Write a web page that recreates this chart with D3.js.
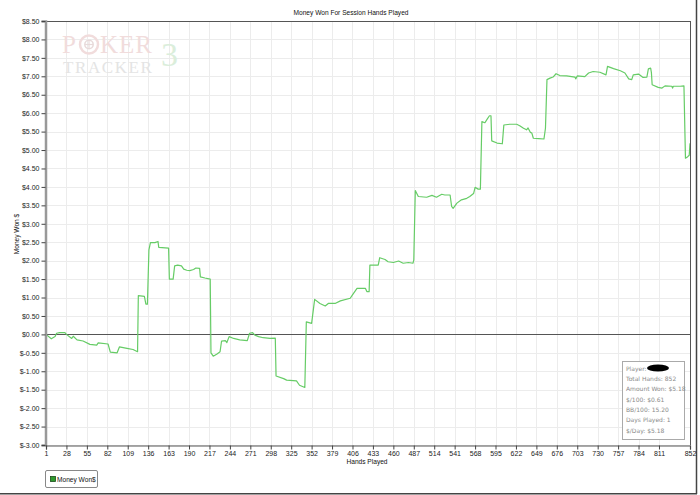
<!DOCTYPE html>
<html><head><meta charset="utf-8">
<script src="https://cdn.jsdelivr.net/npm/d3@7"></script>
<style>body{margin:0;background:#fff}svg{display:block}</style>
</head><body>
<svg id="c" width="700" height="495"></svg>
<script>
// ---- data ----
const hands = [1,8,13,15,19,26,28,35,37,42,50,59,68,70,83,86,95,98,108,116,122,123,131,133,135,137,139,145,149,150,163,164,169,171,175,180,183,187,191,196,199,204,205,211,218,219,222,227,231,233,238,240,243,249,257,267,270,274,277,282,288,297,304,305,315,319,332,336,343,345,352,356,363,370,374,383,390,403,406,412,423,425,428,429,440,442,449,453,460,467,473,480,486,487,489,493,504,511,517,524,528,535,537,539,544,550,557,561,566,568,572,575,577,581,584,587,589,590,597,604,606,614,623,627,632,636,638,641,643,645,652,659,661,663,667,671,675,680,689,700,701,703,713,718,724,733,741,743,751,760,766,771,775,777,784,790,795,797,800,801,802,810,815,819,828,829,830,839,844,846,849,851,852];
const moneyWon = [0,-0.12,-0.06,0.03,0.05,0.05,0,-0.11,-0.05,-0.15,-0.18,-0.27,-0.29,-0.23,-0.26,-0.48,-0.50,-0.34,-0.38,-0.41,-0.47,1.05,1.03,0.82,0.82,2.29,2.49,2.49,2.52,2.36,2.34,1.50,1.50,1.86,1.88,1.86,1.77,1.74,1.73,1.76,1.80,1.79,1.56,1.53,1.50,-0.50,-0.59,-0.53,-0.47,-0.18,-0.17,-0.22,-0.06,-0.11,-0.15,-0.17,0.03,0.05,-0.02,-0.06,-0.09,-0.11,-0.10,-1.13,-1.20,-1.24,-1.26,-1.38,-1.44,0.34,0.30,0.95,0.84,0.77,0.84,0.84,0.91,0.98,1.07,1.25,1.25,1.16,1.16,1.88,1.88,2.08,2.03,1.97,1.95,1.99,1.93,1.95,1.93,2.02,3.90,3.74,3.72,3.77,3.72,3.80,3.78,3.78,3.47,3.42,3.56,3.65,3.69,3.74,3.82,3.99,3.94,3.94,5.77,5.74,5.84,5.93,5.93,5.25,5.19,5.17,5.68,5.70,5.70,5.66,5.59,5.55,5.60,5.48,5.46,5.32,5.31,5.30,5.59,6.91,6.95,6.98,7.07,7.02,7.01,6.98,6.93,7.01,6.99,7.09,7.13,7.11,7.04,7.27,7.21,7.15,7.09,6.93,6.91,7.04,7.06,6.97,6.98,7.20,7.22,7.10,6.77,6.70,6.68,6.74,6.73,6.68,6.73,6.73,6.74,4.78,4.82,4.86,5.18];
const xTickValues = [1,28,55,82,109,136,163,190,217,244,271,298,325,352,379,406,433,460,487,514,541,568,595,622,649,676,703,730,757,784,811,852];
const yTickValues = [-3,-2.5,-2,-1.5,-1,-0.5,0,0.5,1,1.5,2,2.5,3,3.5,4,4.5,5,5.5,6,6.5,7,7.5,8,8.5];
const title = "Money Won For Session Hands Played";
const xLabel = "Hands Played";
const yLabel = "Money Won $";
const seriesName = "Money Won$";
const infoLines = ["Player: ","Total Hands: 852","Amount Won: $5.18","$/100: $0.61","BB/100: 15.20","Days Played: 1","$/Day: $5.18"];

const svg = d3.select("#c");
const font = "Liberation Sans, Arial, sans-serif";
const L = 46, R = 690, T = 21, B = 445;
const x = d3.scaleLinear().domain([1, 852]).range([L, R]);
const y = d3.scaleLinear().domain([-3, 8.5]).range([B, T]);

// outer frame (right and bottom shadow lines)
svg.append("line").attr("x1",696.5).attr("x2",696.5).attr("y1",0).attr("y2",494).attr("stroke","#444").attr("stroke-width",1.5);
svg.append("line").attr("x1",0).attr("x2",697).attr("y1",493.8).attr("y2",493.8).attr("stroke","#444").attr("stroke-width",1.5);

// grid
const g = svg.append("g");
g.selectAll(".vg").data(xTickValues.slice(1)).join("line")
  .attr("x1", d => Math.round(x(d)) + 0.5).attr("x2", d => Math.round(x(d)) + 0.5)
  .attr("y1", T).attr("y2", B).attr("stroke", "#ececec");
g.selectAll(".hg").data(yTickValues).join("line")
  .attr("x1", L).attr("x2", R)
  .attr("y1", d => Math.round(y(d)) + 0.5).attr("y2", d => Math.round(y(d)) + 0.5)
  .attr("stroke", "#ececec");

// logo watermark
const logo = svg.append("g").attr("font-family", "Liberation Serif, DejaVu Serif, serif");
logo.append("text").attr("x", 62).attr("y", 53).attr("font-size", 25).attr("fill", "#f1dcdc").text("P");
logo.append("circle").attr("cx", 89).attr("cy", 44.5).attr("r", 9).attr("fill", "none").attr("stroke", "#f1dcdc").attr("stroke-width", 2.5);
logo.append("circle").attr("cx", 89).attr("cy", 44.5).attr("r", 4.2).attr("fill", "none").attr("stroke", "#e8dada").attr("stroke-width", 1.5);
logo.append("line").attr("x1", 85).attr("x2", 93).attr("y1", 44.5).attr("y2", 44.5).attr("stroke", "#e8dada").attr("stroke-width", 1.2);
logo.append("line").attr("x1", 89).attr("x2", 89).attr("y1", 40.5).attr("y2", 48.5).attr("stroke", "#e8dada").attr("stroke-width", 1.2);
logo.append("text").attr("x", 100).attr("y", 53).attr("font-size", 25).attr("fill", "#f1dcdc").attr("letter-spacing", 1).text("KER");
logo.append("text").attr("x", 161).attr("y", 66).attr("font-size", 34).attr("fill", "#dbeedb").text("3");
logo.append("text").attr("x", 63).attr("y", 73).attr("font-size", 17).attr("fill", "#e4e4e4").attr("letter-spacing", 1.6).text("TRACKER");

// zero line
svg.append("line").attr("x1", L).attr("x2", R).attr("y1", Math.round(y(0)) + 0.5).attr("y2", Math.round(y(0)) + 0.5)
  .attr("stroke", "#555").attr("stroke-width", 1);

// data line
const line = d3.line().x((d, i) => x(hands[i])).y(d => y(d));
svg.append("path").datum(moneyWon).attr("d", line).attr("fill", "none")
  .attr("stroke", "#66cc66").attr("stroke-width", 1.2).attr("stroke-linejoin", "round");

// plot border (top, right)
svg.append("line").attr("x1", L).attr("x2", R + 0.5).attr("y1", T + 0.5).attr("y2", T + 0.5).attr("stroke", "#555");
svg.append("line").attr("x1", R + 0.5).attr("x2", R + 0.5).attr("y1", T).attr("y2", B).attr("stroke", "#555");

// axes
const yAxis = d3.axisLeft(y).tickValues(yTickValues).tickFormat(d => "$" + d.toFixed(2)).tickSize(4).tickPadding(2);
const ya = svg.append("g").attr("transform", `translate(${L - 0.5},0)`).call(yAxis);
ya.select(".domain").attr("stroke", "#999").attr("stroke-width", 2.5);
ya.selectAll(".tick line").attr("stroke", "#444");
ya.selectAll("text").attr("font-family", font).attr("font-size", 7).attr("fill", "#222");

const xAxis = d3.axisBottom(x).tickValues(xTickValues).tickFormat(d => String(d)).tickSize(4).tickPadding(2);
const xa = svg.append("g").attr("transform", `translate(0,${B + 0.5})`).call(xAxis);
xa.select(".domain").attr("stroke", "#555").attr("stroke-width", 1.2);
xa.selectAll(".tick line").attr("stroke", "#444");
xa.selectAll("text").attr("font-family", font).attr("font-size", 7).attr("fill", "#222");

// titles
svg.append("text").attr("x", 351).attr("y", 15).attr("text-anchor", "middle").attr("font-family", font).attr("font-size", 6.6).attr("fill", "#111").text(title);
svg.append("text").attr("x", 367).attr("y", 464).attr("text-anchor", "middle").attr("font-family", font).attr("font-size", 6.6).attr("fill", "#111").text(xLabel);
svg.append("text").attr("transform", "translate(19,234) rotate(-90)").attr("text-anchor", "middle").attr("font-family", font).attr("font-size", 6.6).attr("fill", "#111").text(yLabel);

// legend
const lg = svg.append("g");
lg.append("rect").attr("x", 45.5).attr("y", 470.5).attr("width", 52).attr("height", 17).attr("rx", 1.5).attr("fill", "#fff").attr("stroke", "#888").attr("stroke-width", 1);
lg.append("rect").attr("x", 50.5).attr("y", 476.5).attr("width", 5).attr("height", 5).attr("fill", "#2e9a2e").attr("stroke", "#1a4d1a").attr("stroke-width", 0.8);
lg.append("text").attr("x", 57).attr("y", 482).attr("font-family", font).attr("font-size", 6.6).attr("fill", "#111").text(seriesName);

// info box
const ib = svg.append("g");
ib.append("rect").attr("x", 622.5).attr("y", 361.5).attr("width", 62).attr("height", 78).attr("fill", "#fff").attr("stroke", "#aaa");
ib.selectAll("text").data(infoLines).join("text")
  .attr("x", 626).attr("y", (d, i) => 370.5 + i * 10.35)
  .attr("font-family", "DejaVu Sans, Verdana, sans-serif").attr("font-size", 6).attr("fill", "#8a8a8a").text(d => d);
ib.append("ellipse").attr("cx", 658).attr("cy", 368).attr("rx", 11).attr("ry", 3.6).attr("fill", "#000");
</script>
</body></html>
